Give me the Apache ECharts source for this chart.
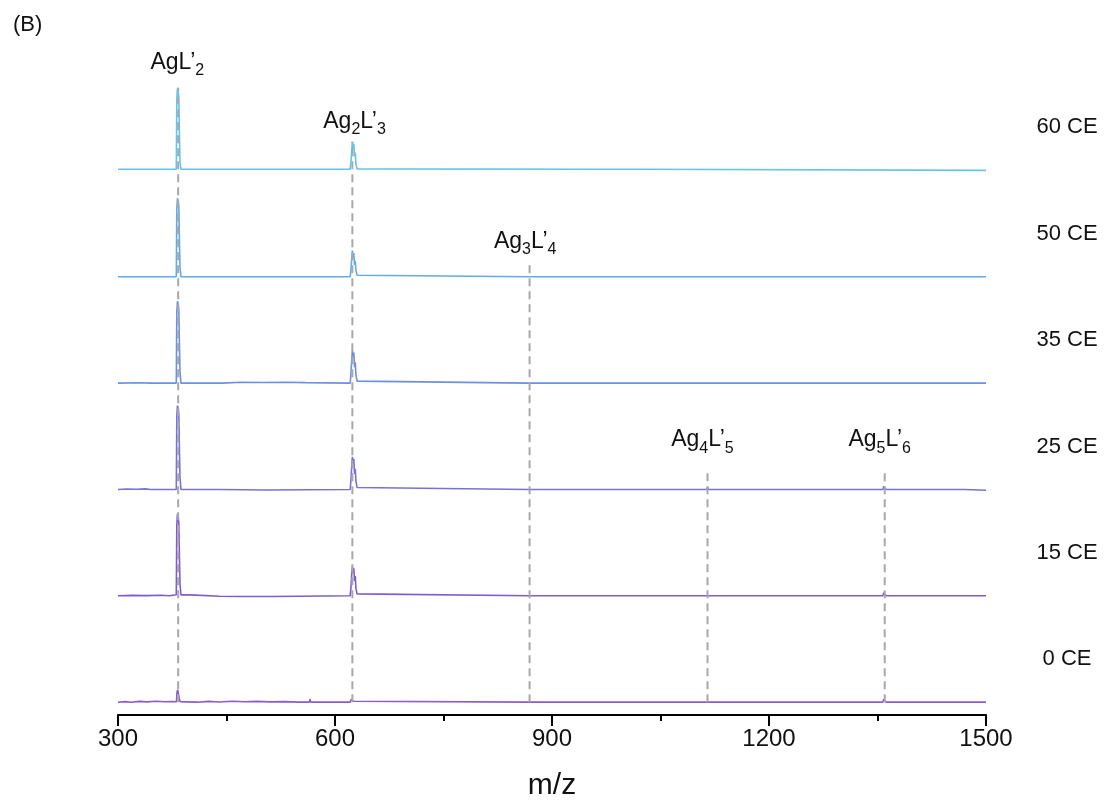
<!DOCTYPE html>
<html><head><meta charset="utf-8">
<script src="https://cdn.jsdelivr.net/npm/echarts@6/dist/echarts.min.js"></script>
<style>html,body{margin:0;padding:0;background:#fff}#c{width:1104px;height:806px}</style>
</head><body><div id="c"></div>
<script>
// ---- data (m/z, relative intensity) ----
const ceLabels = ['0 CE', '15 CE', '25 CE', '35 CE', '50 CE', '60 CE'];
const xTicks = [300, 600, 900, 1200, 1500];

const spec0 = [[300,0],[310,0.6],[318,0],[330,0.8],[340,0.3],[352,0.9],[365,0.4],[375,0.7],[380.8,0.5],[381.6,10],[382.6,12.5],[383.6,11],[384.6,4],[386,0.5],[395,0.3],[410,0],[425,0.8],[440,0.2],[458,0.9],[475,0.4],[492,0.8],[510,0.3],[530,0.6],[550,0],[564.5,0],[565.5,3],[566.5,0],[621,0],[622.5,3],[623.5,1],[624.5,4.5],[625.5,1],[626.5,2],[628,0],[868,0],[869,1.2],[870,0],[1114,0],[1115,1.5],[1116,0],[1336,0],[1337,1],[1338,0],[1357.5,0],[1358.5,3],[1359.5,4.5],[1360.5,2.5],[1362,0],[1466,0],[1467,1],[1468,0],[1500,0]];
const spec15 = [[300,0],[320,0.4],[340,0.2],[360,0.5],[371,0],[373,1],[380.6,1],[381.3,72],[382.2,83],[383.2,80],[384.1,74],[384.9,40],[385.7,12],[387,1],[400,1],[402,-0.7],[440,-0.4],[470,-0.7],[512,-0.7],[514,0],[621,0],[622,8],[623,20],[624,30],[625,24],[626,28],[627,15],[628,20],[629,7],[630.5,2],[632,0],[868,0],[869,1.5],[870,0],[1114,0],[1115,2],[1116,0],[1357.5,0],[1358.5,3],[1359.5,4.5],[1360.5,3],[1362,0],[1500,0]];
const spec25 = [[300,0],[312,0.5],[325,0.2],[338,0.6],[345,0],[380.6,0],[381.3,74],[382.2,85],[383.2,82],[384.1,76],[384.9,42],[385.7,12],[387,0],[440,0],[441,-0.6],[505,-0.6],[506,0],[621,0],[622,9],[623,22],[624,33],[625,26],[626,31],[627,16],[628,21],[629,8],[630.5,2],[632,0],[867.5,0],[868.5,2],[869.5,1.5],[871,0],[1114,0],[1115,2.3],[1116.5,0],[1357.5,0],[1358.5,3],[1359.5,4],[1360.5,3],[1362,0],[1470,0],[1471,-0.8],[1500,-0.8]];
const spec35 = [[300,0],[330,0.3],[345,0],[380.6,0],[381.3,72],[382.2,83],[383.2,80],[384.1,74],[384.9,40],[385.7,11],[387,0],[444,0],[446,0.7],[470,0.9],[500,0.6],[530,0.9],[560,0.5],[562,0],[621,0],[622,9],[623,22],[624,33],[625,26],[626,31],[627,16],[628,21],[629,8],[630.5,2],[632,0],[867.5,0],[868.5,2],[869.5,1.2],[871,0],[1114,0],[1115,1],[1116,0],[1358,0],[1359.5,1.5],[1361,0],[1500,0]];
const spec50 = [[300,0],[380.6,0],[381.3,69],[382.2,79.5],[383.2,77],[384.1,70],[384.9,38],[385.7,10],[387,0],[490,0],[491.5,1],[493,0],[621,0],[622,7],[623,17],[624,26.5],[625,20],[626,24],[627,12],[628,16],[629,6],[630.5,1.5],[632,0],[868,0],[869,1.2],[870.5,0],[1500,0]];
const spec60 = [[300,1.2],[380.6,1.2],[381.3,72],[382.2,83],[383.2,80],[384.1,72],[384.9,38],[385.7,9],[387,1.2],[488,1.2],[489,2],[490,1.2],[621,1.2],[622,8],[623,18],[624,29],[625,22],[626,27],[627,14],[628,18],[629,6],[630.5,1.5],[632,1.2],[955,1.2],[957,2.5],[959,1.2],[1019,1.2],[1020,0],[1500,0]];
const spectra = [spec0, spec15, spec25, spec35, spec50, spec60];

// labelled peaks
const peakMz = [383.2, 624, 869, 1115, 1360];
const peakLabels = ['{n|AgL’}{s|2}', '{n|Ag}{s|2}{n|L’}{s|3}', '{n|Ag}{s|3}{n|L’}{s|4}', '{n|Ag}{s|4}{n|L’}{s|5}', '{n|Ag}{s|5}{n|L’}{s|6}'];
const dashTop = [623, 568, 443, 236, 236];     // top of dashed guide, height above 0 CE baseline
const labelMz = [382, 627, 863, 1108, 1353];
const labelH = [647, 587, 465.5, 264.5, 264.5];

// ---- layout / style ----
const STEP = 107.8;
const colors = ['#8a5ccf', '#7f5ccd', '#7772d8', '#6c90e2', '#62abe8', '#62c5ec'];
const FONT = 'Liberation Sans, Arial, sans-serif';
const TXT = '#111';

const series = [];
spectra.forEach((sp, k) => {
  series.push({
    type: 'line', name: ceLabels[k], symbol: 'none', z: 2, silent: true,
    data: sp.map(p => [p[0], p[1] + k * STEP]),
    lineStyle: { color: colors[k], width: 1.6 },
    endLabel: { show: true, formatter: ceLabels[k], align: 'center', offset: [73, -43],
      fontSize: 22, color: TXT, fontFamily: FONT }
  });
});
peakMz.forEach((mz, i) => {
  series.push({
    type: 'line', data: [[mz, 0], [mz, dashTop[i]]], symbol: 'none', z: 3, silent: true,
    lineStyle: { color: '#a8a8a8', width: 2, type: [8, 5] }
  });
});
series.push({
  type: 'scatter', symbol: 'circle', symbolSize: 0.01, silent: true, z: 5,
  itemStyle: { color: TXT, opacity: 1 },
  data: labelMz.map((m, i) => ({ value: [m, labelH[i]], label: { formatter: peakLabels[i] } })),
  label: { show: true, position: 'inside', color: TXT, opacity: 1, textBorderWidth: 0,
    rich: {
      n: { fontSize: 23, color: TXT, fontFamily: FONT, lineHeight: 26, verticalAlign: 'top' },
      s: { fontSize: 16, color: TXT, fontFamily: FONT, lineHeight: 16, padding: [12, 0, 0, 0], verticalAlign: 'top' }
    } }
});

const chart = echarts.init(document.getElementById('c'));
chart.setOption({
  animation: false,
  backgroundColor: '#fff',
  title: { text: '(B)', left: 8, top: 9, textStyle: { fontSize: 22, fontWeight: 'normal', color: TXT, fontFamily: FONT } },
  grid: { left: 118, right: 118, top: 50, bottom: 82 },
  xAxis: {
    type: 'value', min: xTicks[0], max: xTicks[xTicks.length - 1], interval: 300,
    name: 'm/z', nameLocation: 'middle', nameGap: 56,
    nameTextStyle: { fontSize: 30, color: TXT, fontFamily: FONT },
    axisLine: { onZero: false, lineStyle: { color: '#000', width: 2 } },
    axisTick: { inside: false, length: 11, lineStyle: { color: '#000', width: 2 } },
    minorTick: { show: true, splitNumber: 2, length: 6, lineStyle: { color: '#000', width: 2 } },
    axisLabel: { fontSize: 24, color: TXT, margin: 12, fontFamily: FONT, formatter: v => String(v) },
    splitLine: { show: false }
  },
  yAxis: { type: 'value', min: -13, max: 661, show: false, splitLine: { show: false } },
  series: series
});
</script></body></html>
